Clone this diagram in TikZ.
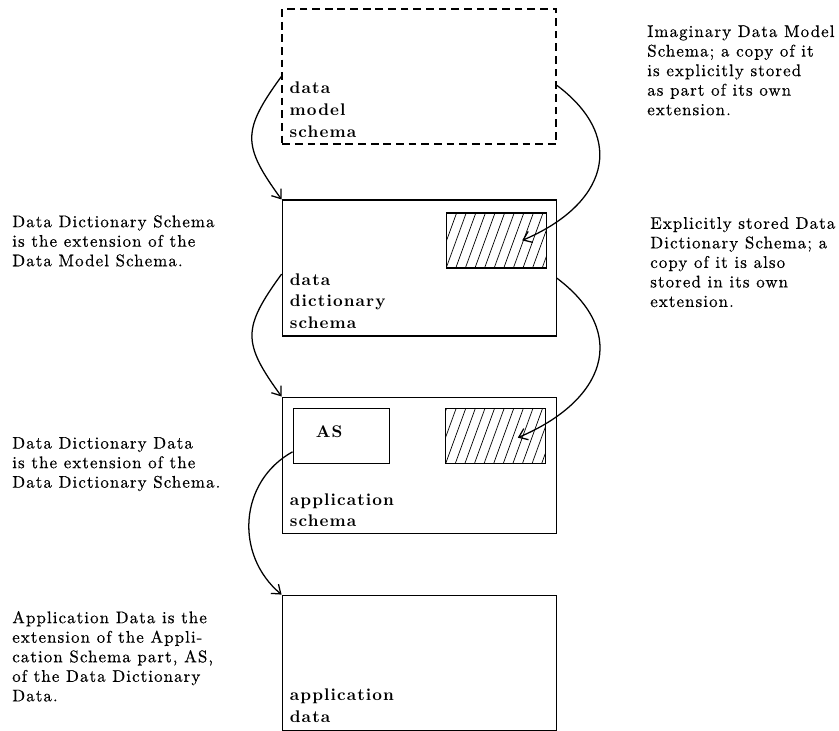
\documentclass[tikz,border=0pt]{standalone}
\usepackage{fontspec}
\setmainfont{lmroman10}[Extension=.otf, UprightFont=*-regular, BoldFont=*-bold,
    UprightFeatures={FakeBold=0.5}, LetterSpace=6.5]
\usetikzlibrary{arrows.meta,positioning}

\begin{document}
\begin{tikzpicture}[
    >={Straight Barb[length=2mm,width=3mm]},
    layer/.style={rectangle, draw, line width=0.9pt, inner sep=0pt,
                  minimum width=6.85cm, minimum height=3.4cm},
    dashlayer/.style={layer, line width=1.1pt, dash pattern=on 5.5pt off 3.5pt},
    hatchbox/.style={rectangle, draw, line width=0.9pt, inner sep=0pt,
                     minimum width=2.5cm, minimum height=1.375cm,
                     path picture={
                        \foreach \k in {-3,...,11}
                            \draw[line width=0.5pt]
                                ([xshift=\k*0.24cm]path picture bounding box.south west)
                                -- ++(70:1.6cm);
                     }},
    subbox/.style={rectangle, draw, line width=0.9pt, inner sep=0pt,
                   minimum width=2.4cm, minimum height=1.375cm,
                   font=\fontsize{12}{15.5}\selectfont\bfseries},
    lbl/.style={inner sep=0pt, align=left, font=\fontsize{12}{15.5}\selectfont\bfseries},
    note/.style={inner sep=0pt, align=left, anchor=north west,
                 font=\fontsize{12}{13.9}\selectfont},
    arrow/.style={->, line width=0.9pt},
]
\useasboundingbox (0,0) rectangle (20.975,-18.275);

% === Schema levels ===
\node[dashlayer, minimum height=3.375cm] (dms) at (10.48,-1.91) {};
\node[layer, below=1.37cm of dms] (dds) {};
\node[layer, below=1.495cm of dds] (aps) {};
\node[layer, below=1.52cm of aps, minimum height=3.375cm] (apd) {};

\node[lbl, above right=0.175cm and 0.2cm of dms.south west] (dmslbl) {data\\model\\schema};
\node[lbl, above right=0.19cm and 0.2cm of dds.south west] (ddslbl) {data\\dictionary\\schema};
\node[lbl, above right=0.165cm and 0.2cm of aps.south west] (apslbl) {application\\schema};
\node[lbl, above right=0.2cm and 0.2cm of apd.south west] (apdlbl) {application\\data};

% === Stored copies and the AS part ===
\node[hatchbox, below left=0.32cm and 0.25cm of dds.north east] (ddscopy) {};
\node[hatchbox, below left=0.275cm and 0.26cm of aps.north east] (apscopy) {};
\node[subbox, text depth=0.2cm, below right=0.275cm and 0.275cm of aps.north west]
    (asbox) {AS\rule{0.6cm}{0pt}};

% === Extension arrows ===
\draw[arrow] (dms.west) to[out=234, in=126, looseness=1.4] (dds.north west);
\draw[arrow] ([yshift=-0.225cm]dms.east) to[out=-37, in=23, looseness=1.45]
    ([xshift=0.65cm]ddscopy.center);
\draw[arrow] ([yshift=-0.15cm]dds.west) to[out=234, in=126, looseness=1.4] (aps.north west);
\draw[arrow] ([yshift=-0.25cm]dds.east) to[out=-37, in=23, looseness=1.45]
    ([xshift=0.55cm,yshift=-0.05cm]apscopy.center);
\draw[arrow] ([yshift=0.3cm]asbox.south west) to[out=209, in=140, looseness=1.1] (apd.north west);

% === Notes ===
\node[note] (dmsnote) at (16.175,-0.625)
    {Imaginary Data Model\\Schema; a copy of it\\is explicitly stored\\as part of its own\\extension.};
\node[note] (copynote) at (16.25,-5.42)
    {Explicitly stored Data\\Dictionary Schema; a\\copy of it is also\\stored in its own\\extension.};
\node[note] (ddsnote) at (0.3,-5.375)
    {Data Dictionary Schema\\is the extension of the\\Data Model Schema.};
\node[note] (ddnote) at (0.3,-10.92)
    {Data Dictionary Data\\is the extension of the\\Data Dictionary Schema.};
\node[note] (apdnote) at (0.3,-15.27)
    {Application Data is the\\extension of the Appli-\\cation Schema part, AS,\\of the Data Dictionary\\Data.};

\end{tikzpicture}
\end{document}
